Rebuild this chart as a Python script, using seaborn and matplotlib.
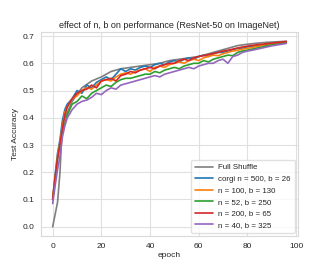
import numpy as np
import pandas as pd
import seaborn as sns
from matplotlib import pyplot as plt

# epochs at which the runs were evaluated
epochs = [0, 1, 2, 3, 4, 5, 6] + list(range(8, 97, 2))
shuffle_epochs = [0, 2, 3, 4, 6, 8, 12, 16, 20, 24, 28, 32, 36, 40, 44, 48,
                  52, 56, 60, 64, 68, 72, 76, 80, 84, 88, 92, 96]

full_shuffle = [0.0, 0.09, 0.2, 0.38, 0.42, 0.46, 0.51, 0.535, 0.55, 0.57, 0.58,
                0.585, 0.59, 0.595, 0.60, 0.61, 0.615, 0.62, 0.625, 0.635, 0.645,
                0.655, 0.665, 0.67, 0.674, 0.677, 0.679, 0.681]

corgi_500 = [0.10, 0.19, 0.27, 0.32, 0.39, 0.43, 0.45, 0.47, 0.50, 0.49, 0.52, 0.51,
             0.53, 0.54, 0.55, 0.54, 0.56, 0.58, 0.57, 0.58, 0.575, 0.585, 0.59,
             0.585, 0.595, 0.60, 0.595, 0.605, 0.61, 0.605, 0.615, 0.62, 0.615,
             0.625, 0.63, 0.625, 0.635, 0.64, 0.64, 0.645, 0.65, 0.655, 0.655,
             0.66, 0.662, 0.665, 0.667, 0.669, 0.671, 0.673, 0.675, 0.677]

n100 = [0.11, 0.18, 0.26, 0.31, 0.37, 0.42, 0.44, 0.47, 0.48, 0.50, 0.51, 0.505,
        0.52, 0.535, 0.54, 0.535, 0.55, 0.56, 0.565, 0.56, 0.57, 0.575, 0.58, 0.57,
        0.585, 0.59, 0.585, 0.595, 0.60, 0.605, 0.60, 0.61, 0.615, 0.61, 0.62,
        0.625, 0.63, 0.628, 0.635, 0.64, 0.645, 0.648, 0.652, 0.655, 0.658, 0.662,
        0.665, 0.667, 0.67, 0.672, 0.674, 0.676]

n52 = [0.10, 0.17, 0.25, 0.30, 0.35, 0.38, 0.41, 0.45, 0.46, 0.48, 0.47, 0.49,
       0.50, 0.51, 0.52, 0.515, 0.53, 0.54, 0.545, 0.545, 0.55, 0.555, 0.56, 0.56,
       0.57, 0.565, 0.575, 0.58, 0.585, 0.58, 0.59, 0.595, 0.60, 0.60, 0.61, 0.605,
       0.615, 0.62, 0.625, 0.63, 0.628, 0.64, 0.645, 0.648, 0.652, 0.656, 0.66,
       0.664, 0.667, 0.67, 0.672, 0.675]

n200 = [0.10, 0.18, 0.25, 0.30, 0.36, 0.41, 0.44, 0.47, 0.49, 0.50, 0.505, 0.52,
        0.51, 0.535, 0.54, 0.545, 0.535, 0.555, 0.56, 0.57, 0.565, 0.575, 0.58,
        0.585, 0.58, 0.59, 0.595, 0.60, 0.60, 0.61, 0.615, 0.61, 0.62, 0.625,
        0.628, 0.632, 0.636, 0.64, 0.645, 0.648, 0.652, 0.656, 0.66, 0.663, 0.666,
        0.668, 0.67, 0.672, 0.674, 0.676, 0.678, 0.68]

n40 = [0.085, 0.15, 0.21, 0.26, 0.33, 0.37, 0.40, 0.43, 0.45, 0.46, 0.465, 0.475,
       0.49, 0.485, 0.50, 0.51, 0.505, 0.52, 0.525, 0.53, 0.535, 0.54, 0.545, 0.55,
       0.555, 0.55, 0.56, 0.565, 0.57, 0.575, 0.58, 0.585, 0.58, 0.59, 0.595, 0.60,
       0.60, 0.61, 0.615, 0.60, 0.625, 0.63, 0.64, 0.645, 0.648, 0.652, 0.656,
       0.66, 0.664, 0.667, 0.67, 0.673]

labels = ['Full Shuffle', 'corgi n = 500, b = 26', 'n = 100, b = 130',
          'n = 52, b = 250', 'n = 200, b = 65', 'n = 40, b = 325']
colors = ['tab:gray', 'tab:blue', 'tab:orange', 'tab:green', 'tab:red', 'tab:purple']

# long table for seaborn
frames = [pd.DataFrame({'epoch': shuffle_epochs, 'acc': full_shuffle, 'run': labels[0]})]
for lab, vals in zip(labels[1:], [corgi_500, n100, n52, n200, n40]):
    frames.append(pd.DataFrame({'epoch': epochs, 'acc': vals, 'run': lab}))
df = pd.concat(frames, ignore_index=True)

sns.set_style('whitegrid')
plt.rcParams['font.family'] = ['Liberation Sans', 'DejaVu Sans']

fig = plt.figure(figsize=(3.32, 2.66), dpi=100)
ax = fig.add_axes([0.1235, 0.1128, 0.774, 0.767])
sns.lineplot(data=df, x='epoch', y='acc', hue='run', hue_order=labels,
             palette=dict(zip(labels, colors)), linewidth=1.2, ax=ax)

ax.set_title('effect of n, b on performance (ResNet-50 on ImageNet)', fontsize=6.5, pad=3)
ax.set_xlabel('epoch', fontsize=6, labelpad=1.5)
ax.set_ylabel('Test Accuracy', fontsize=6, labelpad=2)
ax.set_xticks([0, 20, 40, 60, 80, 100])
ax.set_yticks([0.0, 0.1, 0.2, 0.3, 0.4, 0.5, 0.6, 0.7])
ax.tick_params(labelsize=6, pad=1.5)
ax.set_xlim(-4.8, 100.8)
ax.grid(color='.88', linewidth=0.8)
for s in ax.spines.values():
    s.set_color('.85')
    s.set_linewidth(0.8)

leg = ax.legend(loc='lower right', fontsize=5.7, frameon=True, handlelength=2.2,
                handletextpad=0.7, borderpad=0.5, labelspacing=0.5,
                borderaxespad=0.4)
leg.get_frame().set_edgecolor('.85')
for line in leg.get_lines():
    line.set_linewidth(1.2)

fig.savefig('out.png', dpi=100)
